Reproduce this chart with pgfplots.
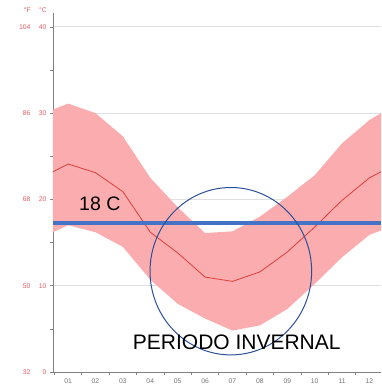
\documentclass[border=0pt]{standalone}
\usepackage{fontspec}
\setmainfont{Liberation Sans}
\usepackage{pgfplots}
\pgfplotsset{compat=1.18}
\definecolor{band}{RGB}{250,172,174}
\definecolor{meanred}{RGB}{222,62,62}
\definecolor{lineblue}{RGB}{68,114,196}
\definecolor{circblue}{RGB}{44,80,150}
\definecolor{labred}{RGB}{232,92,98}
\definecolor{axgray}{RGB}{130,130,130}
\definecolor{gridgray}{RGB}{224,224,224}
\newcommand{\yl}[2]{\makebox[12pt][r]{#1}\hspace{8pt}\makebox[8pt][r]{#2}}
\begin{document}
\begin{tikzpicture}[x=1pt,y=1pt]
\begin{axis}[
  at={(0,0)}, anchor=south west, scale only axis,
  width=328pt, height=359pt,
  xmin=0.45, xmax=12.42, ymin=0, ymax=41.6,
  axis lines=left,
  axis line style={-, draw=axgray, line width=0.8pt},
  xtick={1,2,3,4,5,6,7,8,9,10,11,12},
  xticklabels={01,02,03,04,05,06,07,08,09,10,11,12},
  minor xtick={0.5,1.5,2.5,3.5,4.5,5.5,6.5,7.5,8.5,9.5,10.5,11.5},
  major x tick style={draw=none},
  ytick={0,10,20,30,40},
  yticklabels={{\yl{32}{0}},{\yl{50}{10}},{\yl{68}{20}},{\yl{86}{30}},{\yl{104}{40}}},
  minor ytick={5,15,25,35},
  tick align=outside, major tick length=3pt, minor tick length=3pt,
  every tick/.style={draw=axgray, line width=0.6pt},
  ymajorgrids, grid style={gridgray, line width=0.8pt},
  xticklabel style={font=\fontsize{6.8}{8}\selectfont, text=black!55, yshift=-0.5pt},
  yticklabel style={font=\fontsize{6.8}{8}\selectfont, text=labred},
  /pgf/number format/assume math mode=true,
]
% temperature range band (upper left->right, lower right->left)
\addplot[fill=band, draw=none] coordinates {
  (0.45,30.4) (1,31.1) (2,30.0) (3,27.3) (4,22.5) (5,19.1) (6,16.1) (7,16.3)
  (8,18.0) (9,20.3) (10,22.8) (11,26.5) (12,29.2) (12.42,30.0)
  (12.42,16.4) (12,15.9) (11,13.3) (10,10.2) (9,7.3) (8,5.4) (7,4.8) (6,6.2)
  (5,7.9) (4,10.7) (3,14.5) (2,16.2) (1,17.0) (0.45,16.2)
} -- cycle;
% mean temperature
\addplot[meanred, line width=0.8pt] coordinates {
  (0.45,23.2) (1,24.1) (2,23.1) (3,20.9) (4,16.2) (5,13.8) (6,11.0) (7,10.5)
  (8,11.6) (9,13.9) (10,16.8) (11,19.9) (12,22.5) (12.42,23.2)
};
% reference line
\addplot[lineblue, line width=4pt] coordinates {(0.45,17.3) (12.42,17.3)};
\draw[circblue, line width=1pt] (axis cs:6.94,11.68) ellipse [x radius=80.8pt, y radius=83.7pt];
\end{axis}
\node[anchor=east, inner sep=0, font=\fontsize{6.8}{8}\selectfont, text=labred] at (-22pt,362pt) {°F};
\node[anchor=east, inner sep=0, font=\fontsize{6.8}{8}\selectfont, text=labred] at (-6pt,362pt) {°C};
\node[anchor=base west, inner sep=0, font=\fontsize{19.5}{22}\selectfont] at (26pt,161pt) {18 C};
\node[anchor=base west, inner sep=0, font=\fontsize{21}{24}\selectfont] at (79.7pt,22.7pt) {PERIODO INVERNAL};
\pgfresetboundingbox
\path[use as bounding box] (-53pt,-14pt) rectangle (328pt,372pt);
\end{tikzpicture}
\end{document}
